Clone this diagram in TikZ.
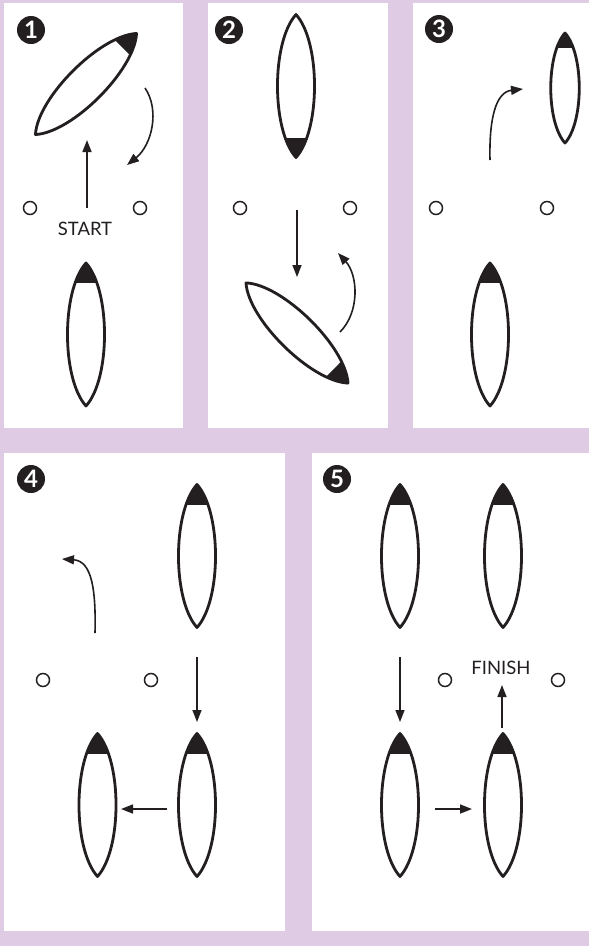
\documentclass[tikz,border=0pt]{standalone}
\usepackage{fontspec}
\setmainfont{Lato}
\usetikzlibrary{arrows.meta}
\definecolor{lav}{RGB}{223,203,228}
\definecolor{ink}{RGB}{35,31,32}
\tikzset{
  boat/.pic={
    \begin{scope}
      \clip (0,-71.5) .. controls (24.7,-44) and (24.7,44) .. (0,71.5)
            .. controls (-24.7,44) and (-24.7,-44) .. cycle;
      \fill[ink] (-30,-76) rectangle (30,-51.5);
    \end{scope}
    \draw[ink,line width=2.8pt,line join=round] (0,-71.5) .. controls (24.7,-44) and (24.7,44) .. (0,71.5)
            .. controls (-24.7,44) and (-24.7,-44) .. cycle;
  },
  panel/.style={fill=white},
  buoy/.style={circle,draw=ink,line width=1.5pt,minimum size=13pt,inner sep=0pt,fill=white},
  badge/.style={circle,fill=ink,text=white,inner sep=0pt,minimum size=28pt,
    font=\fontsize{24}{24}\selectfont\bfseries},
  lbl/.style={text=ink,inner sep=0pt,font=\fontsize{18.5}{18.5}\selectfont},
  arr/.style={draw=ink,line width=1.6pt,-{Triangle[length=12pt,width=9pt]}},
}
\begin{document}
\begin{tikzpicture}[x=1pt,y=-1pt]
\useasboundingbox (0,0) rectangle (589,946);
\fill[lav] (0,0) rectangle (589,946);
% panels
\fill[panel] (3.5,3) rectangle (183,428);
\fill[panel] (208,3) rectangle (388,428);
\fill[panel] (413,3) rectangle (589,428);
\fill[panel] (3.5,453) rectangle (285,931);
\fill[panel] (312,453) rectangle (589,931);
% badges
\node[badge] (n1) at (31,30) {1};
\node[badge] (n2) at (229,30) {2};
\node[badge] (n3) at (439,29) {3};
\node[badge] (n4) at (31,479) {4};
\node[badge] (n5) at (337,479) {5};
% buoys
\node[buoy] (b1a) at (30,208) {};
\node[buoy] (b1b) at (140,208) {};
\node[buoy] (b2a) at (240,208) {};
\node[buoy] (b2b) at (350,208) {};
\node[buoy] (b3a) at (436,208) {};
\node[buoy] (b3b) at (547,208) {};
\node[buoy] (b4a) at (43,680) {};
\node[buoy] (b4b) at (151,680) {};
\node[buoy] (b5a) at (445,680) {};
\node[buoy] (b5b) at (558,680) {};
% labels
\node[lbl] (start) at (85,229) {START};
\node[lbl] (finish) at (501,668) {FINISH};
% boats
\pic[rotate=-45] at (86,84) {boat};
\pic at (86,334.5) {boat};
\pic[rotate=180] at (296,86) {boat};
\pic[rotate=-134.5] at (297,333) {boat};
\pic[scale=0.77] at (565,88) {boat};
\pic at (490,334.5) {boat};
\pic at (197,556) {boat};
\pic at (97.5,805) {boat};
\pic at (197,805) {boat};
\pic at (400,556) {boat};
\pic at (503,556) {boat};
\pic at (400,805) {boat};
\pic at (503,805) {boat};
% arrow end points
\coordinate (a1s) at (87,208); \coordinate (a1e) at (87,140);
\coordinate (c1s) at (145,88); \coordinate (c1e) at (127,165);
\coordinate (a2s) at (297,210); \coordinate (a2e) at (297,277);
\coordinate (c2s) at (340,332); \coordinate (c2e) at (338,253);
\coordinate (c3s) at (490,160); \coordinate (c3e) at (523,89);
\coordinate (c4s) at (95,633); \coordinate (c4e) at (62,559);
\coordinate (a4s) at (197,657); \coordinate (a4e) at (197,722);
\coordinate (h4s) at (167,809); \coordinate (h4e) at (121,809);
\coordinate (a5s) at (400,657); \coordinate (a5e) at (400,722);
\coordinate (h5s) at (435,809); \coordinate (h5e) at (472,809);
\coordinate (u5s) at (502,728); \coordinate (u5e) at (502,685);
% arrows
\draw[arr] (a1s) -- (a1e);
\draw[arr] (c1s) .. controls (160,110) and (152,145) .. (c1e);
\draw[arr] (a2s) -- (a2e);
\draw[arr] (c2s) .. controls (360,312) and (358,275) .. (c2e);
\draw[arr] (c3s) .. controls (489,118) and (496,92) .. (c3e);
\draw[arr] (c4s) .. controls (96,590) and (92,561) .. (c4e);
\draw[arr] (a4s) -- (a4e);
\draw[arr] (h4s) -- (h4e);
\draw[arr] (a5s) -- (a5e);
\draw[arr] (h5s) -- (h5e);
\draw[arr] (u5s) -- (u5e);
\end{tikzpicture}
\end{document}
